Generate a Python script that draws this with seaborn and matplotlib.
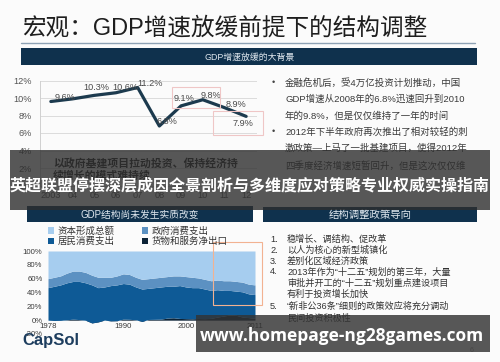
import matplotlib
matplotlib.use("Agg")
import matplotlib.pyplot as plt
import seaborn as sns
import pandas as pd
from matplotlib.patches import Rectangle, Patch
from matplotlib.lines import Line2D

# ---------------- data ----------------
growth_years = ['2003', '04', '05', '06', '07', '08', '09', '10', '11', '12']
gdp_growth = [9.6, 9.9, 10.3, 10.6, 11.2, 6.8, 9.1, 9.8, 8.9, 7.9]
gdp_labels = ['9.6%', '', '10.3%', '10.6%', '11.2%', '6.8%', '9.1%', '9.8%', '8.9%', '7.9%']
growth_yticks = [0, 2, 4, 6, 8, 10, 12]

struct_years = list(range(1978, 2012))
net_exports = [0.0, -0.5, -0.3, 0.5, 1.5, 0.8, -0.2, -4.0, -2.5, 0.1, -1.0, -0.8,
               1.5, 1.2, 0.5, -1.8, 1.0, 1.2, 1.5, 3.0, 3.5, 2.5, 2.2, 2.0, 2.4,
               2.2, 2.6, 4.5, 6.0, 7.5, 7.0, 4.5, 3.7, 2.6]
household = [47.0, 49.5, 51.3, 53.5, 54.5, 55.2, 54.2, 55.0, 49.5, 47.9, 51.0, 51.8,
             51.5, 50.8, 47.5, 46.8, 45.0, 45.8, 46.5, 46.0, 45.5, 47.5, 45.8, 45.0,
             44.6, 42.8, 40.4, 39.5, 37.0, 35.5, 35.0, 36.5, 34.3, 34.4]
government = [13, 13, 13, 14, 15, 15, 15, 14, 15, 14, 12, 13, 14, 14, 14, 14, 14,
              14, 14, 14, 15, 14, 15, 15, 14, 14, 14, 14, 14, 14, 14, 14, 14, 14]
capital = [40, 38, 36, 32, 29, 29, 31, 35, 38, 38, 38, 36, 33, 34, 38, 41, 40, 39,
           38, 37, 36, 36, 37, 38, 39, 41, 43, 42, 43, 43, 44, 45, 48, 49]
struct_names = ['货物和服务净出口', '居民消费支出', '政府消费支出', '资本形成总额']
struct_xticks = [1978, 1990, 2000, 2011]
struct_yticks = [-20, 0, 20, 40, 60, 80, 100]

title = '宏观：GDP增速放缓前提下的结构调整'
banner1 = 'GDP增速放缓的大背景'
banner2 = 'GDP结构尚未发生实质改变'
banner3 = '结构调整政策导向'
bullets_top = ['金融危机后，受4万亿投资计划推动，中国',
               'GDP增速从2008年的6.8%迅速回升到2010',
               '年的9.8%，但是仅仅维持了一年的时间',
               '2012年下半年政府再次推出了相对较轻的刺',
               '激政策—上马了一批基建项目，使得2012年',
               '四季度经济增速短暂回升，但是这次仅仅维']
bullet_marks = ['•', '', '', '•', '', '']
policy_lines = ['稳增长、调结构、促改革', '以人为核心的新型城镇化', '差别化区域经济政策',
                '2013年作为“十二五”规划的第三年，大量', '审批并开工的“十二五”规划重点建设项目',
                '有利于投资增长加快', '“新非公36条”细则的政策效应将充分调动', '民间投资积极性']
policy_nums = ['1.', '2.', '3.', '4.', '', '', '5.', '']
chart_note = ['以政府基建项目拉动投资、保持经济持', '续增长的模式难持续']
overlay_title = '英超联盟停摆深层成因全景剖析与多维度应对策略专业权威实操指南'
url_text = 'www.homepage-ng28games.com'

# ---------------- style ----------------
sns.set_theme(style='white')
plt.rcParams['font.family'] = ['Liberation Sans', 'Noto Sans CJK SC', 'DejaVu Sans']

W, H = 500, 362
fig = plt.figure(figsize=(W / 100, H / 100), dpi=100)
fig.patch.set_facecolor('#fbfbfb')


def fx(x):
    return x / W


def fy(y):
    return 1 - y / H


def rect(x0, y0, x1, y1, **kw):
    r = Rectangle((fx(x0), fy(y1)), (x1 - x0) / W, (y1 - y0) / H,
                  transform=fig.transFigure, **kw)
    fig.add_artist(r)
    return r


# title
fig.text(fx(22), fy(28), title, fontsize=17, color='#1e1e1e', va='center', ha='left')
fig.add_artist(Line2D([fx(21), fx(475)], [fy(43), fy(43)], transform=fig.transFigure,
                      color='#8ea2b4', lw=1.0))

navy = '#0f314d'
rect(21, 48, 477, 65, facecolor=navy, edgecolor='none', zorder=1)
fig.text(fx(250), fy(57), banner1, fontsize=6.4, color='#dfe7ee', ha='center', va='center')
rect(27, 206, 253, 222, facecolor=navy, edgecolor='none', zorder=1)
fig.text(fx(140), fy(214.5), banner2, fontsize=7, color='#dfe7ee', ha='center', va='center')
rect(263, 207, 477, 222, facecolor=navy, edgecolor='none', zorder=1)
fig.text(fx(370), fy(214.5), banner3, fontsize=7.5, color='#dfe7ee', ha='center', va='center')

# ---------------- line chart ----------------
ax1 = fig.add_axes([fx(40), fy(185.5), (257 - 40) / W, (185.5 - 80.5) / H])
df1 = pd.DataFrame({'year': growth_years, 'growth': gdp_growth})
sns.lineplot(data=df1, x='year', y='growth', ax=ax1, sort=False, color='#1c3a4e',
             linewidth=2.3)
ax1.set_xlim(-0.5, len(growth_years) - 0.5)
ax1.set_ylim(growth_yticks[0], growth_yticks[-1])
ax1.set_yticks(growth_yticks)
ax1.set_yticklabels([f'{v}%' for v in growth_yticks])
ax1.set_xlabel('')
ax1.set_ylabel('')
ax1.grid(axis='y', color='#dcdcdc', lw=0.7)
ax1.set_axisbelow(True)
for s in ['top', 'right']:
    ax1.spines[s].set_visible(False)
for s in ['left', 'bottom']:
    ax1.spines[s].set_color('#d0d0d0')
    ax1.spines[s].set_linewidth(0.7)
ax1.tick_params(axis='both', length=0, labelsize=6.6, labelcolor='#555555')
ax1.tick_params(axis='y', pad=6)
ax1.tick_params(axis='x', pad=4)
ax1.set_facecolor('none')
offsets = [(10, 3), (0, 0), (1.5, 6), (6.5, 3.6), (8.6, 3), (5.8, 3.6), (2, 5.5),
           (5.8, 3.2), (8, 2), (-2, -5.4)]
for i, (v, lab) in enumerate(zip(gdp_growth, gdp_labels)):
    if lab:
        ax1.annotate(lab, (i, v), xytext=offsets[i], textcoords='offset points',
                     ha='center', va='center', fontsize=6.6, color='#4a4a4a')

rect(172, 87, 220, 108, facecolor='none', edgecolor='#efc6c6', lw=0.8, zorder=3)
rect(213, 111, 263, 135, facecolor='none', edgecolor='#efc6c6', lw=0.8, zorder=3)

# right text block
for i, (m, line) in enumerate(zip(bullet_marks, bullets_top)):
    yy = [82.7, 98.8, 115.5, 131.5, 148.5, 165.5][i]
    if m:
        fig.text(fx(272), fy(yy), m, fontsize=6.5, color='#444444', ha='left', va='center')
    fig.text(fx(285), fy(yy), line, fontsize=6.8, color='#3a3a3a', ha='left', va='center')

fig.text(fx(53), fy(163), chart_note[0], fontsize=7.8, fontweight='bold', color='#222222',
         ha='left', va='center')
fig.text(fx(53), fy(176), chart_note[1], fontsize=7.8, fontweight='bold', color='#222222',
         ha='left', va='center')

# ---------------- stacked area chart ----------------
ax2 = fig.add_axes([fx(48), fy(334), (255 - 48) / W, (334 - 251) / H])
colors = ['#0b2236', '#0e5a96', '#5c91c2', '#a6cdef']
ax2.stackplot(struct_years, net_exports, household, government, capital,
              colors=colors, labels=struct_names, linewidth=0)
ax2.set_xlim(struct_years[0], struct_years[-1])
ax2.set_ylim(struct_yticks[0], struct_yticks[-1])
ax2.set_yticks(struct_yticks)
ax2.set_yticklabels([f'{v}%' for v in struct_yticks])
ax2.set_xticks(struct_xticks)
ax2.set_xticklabels([str(v) for v in struct_xticks])
for s in ax2.spines.values():
    s.set_visible(False)
ax2.tick_params(axis='both', length=0, labelsize=5.6, labelcolor='#3a3a3a')
ax2.tick_params(axis='y', pad=4)
ax2.tick_params(axis='x', pad=-8)
ax2.set_facecolor('none')

h, l = ax2.get_legend_handles_labels()
order = [3, 1, 2, 0]
handles = [Patch(facecolor=colors[k], edgecolor='none') for k in order]
fig.legend(handles, [l[k] for k in order], ncol=2, loc='upper left',
           bbox_to_anchor=(fx(48), fy(226)), frameon=False, fontsize=6.8,
           handlelength=0.65, handleheight=0.65, handletextpad=0.35,
           columnspacing=2.9, labelspacing=0.12, borderpad=0, borderaxespad=0,
           labelcolor='#333333')

rect(213, 242, 262, 305, facecolor='none', edgecolor='#f2b291', lw=0.8, zorder=3)

# right policy list
policy_y = [239.3, 250.2, 261, 272, 283.3, 294.3, 306.5, 318]
for n, line, yy in zip(policy_nums, policy_lines, policy_y):
    if n:
        fig.text(fx(270), fy(yy), n, fontsize=6.6, color='#333333', ha='left', va='center')
    fig.text(fx(287), fy(yy), line, fontsize=6.6, color='#333333', ha='left', va='center')

fig.text(fx(22), fy(341), 'CapSol', fontsize=12, fontweight='bold', color='#1d3d5e',
         ha='left', va='center', zorder=5)
fig.text(fx(472), fy(350), '6', fontsize=5, color='#999999', ha='center', va='center')

# ---------------- overlays ----------------
rect(10, 150, 490, 210, facecolor='#2e2e2e', edgecolor='none', alpha=0.8, zorder=10)
fig.text(fx(250), fy(186), overlay_title, fontsize=11.5, fontweight='bold', color='white',
         ha='center', va='center', zorder=11, family=['Noto Sans CJK SC', 'DejaVu Sans'])
rect(196, 315, 490, 352, facecolor='#333333', edgecolor='none', alpha=0.82, zorder=10)
fig.text(fx(342), fy(336), url_text, fontsize=12.5, fontweight='bold', color='white',
         ha='center', va='center', zorder=11, family=['Open Sans', 'DejaVu Sans'])

fig.savefig('out.png', dpi=100)
